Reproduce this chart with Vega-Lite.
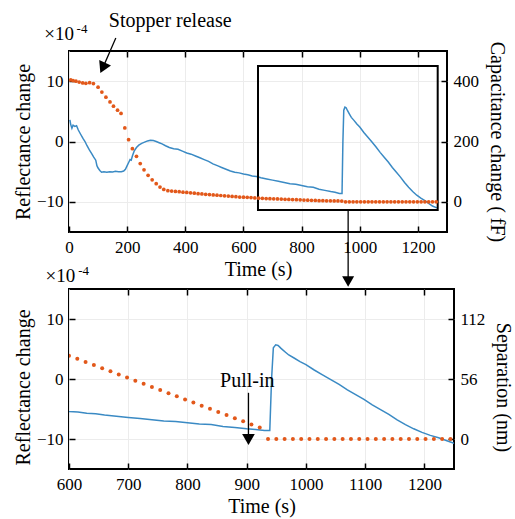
{
  "$schema": "https://vega.github.io/schema/vega-lite/v6.json",
  "background": "white",
  "padding": {"left": 12, "top": 9, "right": 5, "bottom": 5},
  "spacing": 57,
  "bounds": "flush",
  "datasets": {
    "refl": [
      {"t":3,"r":3.6},{"t":6,"r":2.8},{"t":10,"r":2.2},{"t":14,"r":2.7},{"t":20,"r":2.5},{"t":26,"r":2.6},{"t":32,"r":1.9},{"t":40,"r":1.2},{"t":48,"r":0.5},{"t":55,"r":0.0},{"t":62,"r":-0.7},{"t":70,"r":-1.4},{"t":78,"r":-2.0},{"t":85,"r":-2.6},{"t":92,"r":-3.1},{"t":96,"r":-4.0},{"t":100,"r":-4.4},{"t":106,"r":-4.8},{"t":112,"r":-5.1},{"t":120,"r":-5.0},{"t":130,"r":-5.1},{"t":140,"r":-5.0},{"t":150,"r":-5.05},{"t":160,"r":-4.95},{"t":170,"r":-5.0},{"t":180,"r":-5.0},{"t":188,"r":-4.9},{"t":194,"r":-4.6},{"t":200,"r":-4.0},{"t":206,"r":-3.4},{"t":210,"r":-3.0},{"t":214,"r":-3.1},{"t":218,"r":-2.4},{"t":224,"r":-1.6},{"t":232,"r":-1.0},{"t":240,"r":-0.6},{"t":250,"r":-0.3},{"t":260,"r":-0.1},{"t":270,"r":0.1},{"t":280,"r":0.2},{"t":290,"r":0.15},{"t":300,"r":0.0},{"t":310,"r":-0.2},{"t":320,"r":-0.4},{"t":332,"r":-0.7},{"t":345,"r":-1.0},{"t":360,"r":-1.2},{"t":375,"r":-1.3},{"t":390,"r":-1.6},{"t":405,"r":-1.9},{"t":420,"r":-2.1},{"t":435,"r":-2.4},{"t":450,"r":-2.7},{"t":465,"r":-3.0},{"t":480,"r":-3.3},{"t":495,"r":-3.7},{"t":510,"r":-4.0},{"t":525,"r":-4.3},{"t":540,"r":-4.6},{"t":555,"r":-4.9},{"t":570,"r":-5.1},{"t":585,"r":-5.2},{"t":600,"r":-5.4},{"t":615,"r":-5.5},{"t":630,"r":-5.7},{"t":645,"r":-5.8},{"t":660,"r":-6.0},{"t":680,"r":-6.2},{"t":700,"r":-6.4},{"t":720,"r":-6.6},{"t":740,"r":-6.8},{"t":760,"r":-7.0},{"t":780,"r":-7.1},{"t":800,"r":-7.3},{"t":820,"r":-7.5},{"t":840,"r":-7.6},{"t":860,"r":-7.9},{"t":880,"r":-8.1},{"t":900,"r":-8.3},{"t":915,"r":-8.4},{"t":930,"r":-8.6},{"t":939,"r":-8.6},{"t":942,"r":0.0},{"t":945,"r":5.2},{"t":949,"r":5.7},{"t":953,"r":5.6},{"t":958,"r":5.1},{"t":965,"r":4.5},{"t":971,"r":4.0},{"t":980,"r":3.5},{"t":990,"r":2.9},{"t":1000,"r":2.4},{"t":1014,"r":1.5},{"t":1028,"r":0.7},{"t":1042,"r":-0.1},{"t":1056,"r":-0.9},{"t":1070,"r":-1.8},{"t":1084,"r":-2.6},{"t":1098,"r":-3.4},{"t":1112,"r":-4.3},{"t":1126,"r":-5.1},{"t":1140,"r":-5.9},{"t":1154,"r":-6.8},{"t":1168,"r":-7.6},{"t":1182,"r":-8.3},{"t":1196,"r":-8.9},{"t":1210,"r":-9.4},{"t":1224,"r":-9.8},{"t":1238,"r":-10.3},{"t":1250,"r":-10.7},{"t":1265,"r":-11.0}
    ],
    "cap": [
      {"t":6,"c":404},{"t":14,"c":402},{"t":24,"c":400},{"t":35,"c":397},{"t":47,"c":394},{"t":58,"c":393},{"t":71,"c":395},{"t":84,"c":392},{"t":100,"c":380},{"t":113,"c":364},{"t":127,"c":347},{"t":141,"c":331},{"t":153,"c":317},{"t":167,"c":304},{"t":179,"c":293},{"t":192,"c":245},{"t":205,"c":206},{"t":218,"c":176},{"t":232,"c":151},{"t":245,"c":127},{"t":258,"c":106},{"t":272,"c":88},{"t":286,"c":73},{"t":300,"c":60},{"t":313,"c":49},{"t":326,"c":41},{"t":340,"c":37},{"t":353,"c":35.5},{"t":366,"c":34.5},{"t":379,"c":33.5},{"t":392,"c":32},{"t":405,"c":31},{"t":418,"c":30},{"t":431,"c":28.5},{"t":444,"c":27},{"t":457,"c":26},{"t":470,"c":25},{"t":483,"c":24},{"t":496,"c":23},{"t":509,"c":22},{"t":522,"c":21},{"t":535,"c":20},{"t":548,"c":19},{"t":561,"c":18},{"t":574,"c":17},{"t":587,"c":16},{"t":600,"c":15.5},{"t":613,"c":15},{"t":626,"c":14},{"t":639,"c":13},{"t":652,"c":12},{"t":665,"c":11.5},{"t":678,"c":11},{"t":691,"c":10.5},{"t":704,"c":10},{"t":717,"c":9.5},{"t":730,"c":9},{"t":743,"c":8.5},{"t":756,"c":8},{"t":769,"c":7.5},{"t":782,"c":7},{"t":795,"c":6.5},{"t":808,"c":6},{"t":821,"c":5.5},{"t":834,"c":5},{"t":847,"c":4.5},{"t":860,"c":4},{"t":873,"c":3.8},{"t":886,"c":3.5},{"t":899,"c":3.2},{"t":912,"c":3},{"t":925,"c":2.8},{"t":938,"c":2.5},{"t":951,"c":0},{"t":964,"c":0},{"t":977,"c":0},{"t":990,"c":0},{"t":1003,"c":0},{"t":1016,"c":0},{"t":1029,"c":0},{"t":1042,"c":0},{"t":1055,"c":0},{"t":1068,"c":0},{"t":1081,"c":0},{"t":1094,"c":0},{"t":1107,"c":0},{"t":1120,"c":0},{"t":1133,"c":0},{"t":1146,"c":0},{"t":1159,"c":0},{"t":1172,"c":0},{"t":1185,"c":0},{"t":1198,"c":0},{"t":1211,"c":0},{"t":1224,"c":0},{"t":1237,"c":0},{"t":1250,"c":0},{"t":1263,"c":0}
    ],
    "sep": [
      {"t":600,"s":77.7},{"t":614,"s":74.8},{"t":628,"s":71.9},{"t":642,"s":69.0},{"t":656,"s":66.1},{"t":670,"s":63.2},{"t":684,"s":60.2},{"t":698,"s":57.3},{"t":712,"s":54.4},{"t":726,"s":51.5},{"t":740,"s":48.6},{"t":754,"s":45.7},{"t":768,"s":42.8},{"t":782,"s":39.8},{"t":796,"s":36.9},{"t":810,"s":34.0},{"t":824,"s":31.1},{"t":838,"s":28.2},{"t":852,"s":25.3},{"t":866,"s":22.4},{"t":880,"s":19.4},{"t":894,"s":16.5},{"t":908,"s":13.6},{"t":922,"s":10.7},{"t":936,"s":0},{"t":950,"s":0},{"t":964,"s":0},{"t":978,"s":0},{"t":992,"s":0},{"t":1006,"s":0},{"t":1020,"s":0},{"t":1034,"s":0},{"t":1048,"s":0},{"t":1062,"s":0},{"t":1076,"s":0},{"t":1090,"s":0},{"t":1104,"s":0},{"t":1118,"s":0},{"t":1132,"s":0},{"t":1146,"s":0},{"t":1160,"s":0},{"t":1174,"s":0},{"t":1188,"s":0},{"t":1202,"s":0},{"t":1216,"s":0},{"t":1230,"s":0},{"t":1244,"s":0}
    ]
  },
  "vconcat": [
    {
      "width": 378,
      "height": 181,
      "layer": [
        {
          "data": {"name": "refl"},
          "mark": {"type": "line", "color": "#3a8ac4", "strokeWidth": 1.5},
          "encoding": {
            "x": {"field": "t", "type": "quantitative", "scale": {"domain": [0, 1300], "nice": false, "zero": false}, "axis": {"orient": "bottom", "values": [0, 200, 400, 600, 800, 1000, 1200], "format": "d", "title": "Time (s)", "grid": true, "labelPadding": 13, "titlePadding": 4, "labelFlush": false}},
            "y": {"field": "r", "type": "quantitative", "scale": {"domain": [-15, 15], "nice": false, "zero": false}, "axis": {"orient": "left", "values": [-10, 0, 10], "format": "d", "title": "Reflectance change", "grid": true, "titlePadding": 3}}
          }
        },
        {
          "data": {"values": [{"x1": 650, "x2": 1268, "y1": -11.35, "y2": 12.5}]},
          "mark": {"type": "rect", "filled": false, "color": "black", "strokeWidth": 2},
          "encoding": {
            "x": {"field": "x1", "type": "quantitative", "scale": {"domain": [0, 1300], "nice": false, "zero": false}, "axis": null},
            "x2": {"field": "x2"},
            "y": {"field": "y1", "type": "quantitative", "scale": {"domain": [-15, 15], "nice": false, "zero": false}, "axis": null},
            "y2": {"field": "y2"}
          }
        },
        {
          "data": {"values": [{"t": 960, "t2": 960, "y": -11.35, "y2": -23}, {"t": 161, "t2": 116, "y": 17.17, "y2": 12.2}]},
          "mark": {"type": "rule", "color": "black", "strokeWidth": 1.3},
          "encoding": {
            "x": {"field": "t", "type": "quantitative", "scale": {"domain": [0, 1300], "nice": false, "zero": false}, "axis": null},
            "x2": {"field": "t2"},
            "y": {"field": "y", "type": "quantitative", "scale": {"domain": [-15, 15], "nice": false, "zero": false}, "axis": null},
            "y2": {"field": "y2"}
          }
        },
        {
          "data": {"values": [{"t": 960, "y": -23.2}]},
          "mark": {"type": "point", "shape": "triangle-down", "filled": true, "color": "black", "opacity": 1, "size": 144},
          "encoding": {
            "x": {"field": "t", "type": "quantitative", "scale": {"domain": [0, 1300], "nice": false, "zero": false}, "axis": null},
            "y": {"field": "y", "type": "quantitative", "scale": {"domain": [-15, 15], "nice": false, "zero": false}, "axis": null}
          }
        },
        {
          "data": {"values": [{"t": 116, "y": 12.2}]},
          "mark": {"type": "point", "shape": "triangle-down", "filled": true, "color": "black", "opacity": 1, "size": 170, "angle": 25},
          "encoding": {
            "x": {"field": "t", "type": "quantitative", "scale": {"domain": [0, 1300], "nice": false, "zero": false}, "axis": null},
            "y": {"field": "y", "type": "quantitative", "scale": {"domain": [-15, 15], "nice": false, "zero": false}, "axis": null}
          }
        },
        {
          "data": {"values": [{"t": 348, "y": 20.0, "label": "Stopper release"}]},
          "mark": {"type": "text", "fontSize": 20, "color": "black", "baseline": "middle", "align": "center"},
          "encoding": {
            "x": {"field": "t", "type": "quantitative", "scale": {"domain": [0, 1300], "nice": false, "zero": false}, "axis": null},
            "y": {"field": "y", "type": "quantitative", "scale": {"domain": [-15, 15], "nice": false, "zero": false}, "axis": null},
            "text": {"field": "label"}
          }
        },
        {
          "data": {"values": [{"t": -85, "y": 17.9, "label": "×10"}]},
          "mark": {"type": "text", "fontSize": 19, "color": "black", "baseline": "middle", "align": "left"},
          "encoding": {
            "x": {"field": "t", "type": "quantitative", "scale": {"domain": [0, 1300], "nice": false, "zero": false}, "axis": null},
            "y": {"field": "y", "type": "quantitative", "scale": {"domain": [-15, 15], "nice": false, "zero": false}, "axis": null},
            "text": {"field": "label"}
          }
        },
        {
          "data": {"values": [{"t": 26, "y": 18.7, "label": "-4"}]},
          "mark": {"type": "text", "fontSize": 13, "color": "black", "baseline": "middle", "align": "left"},
          "encoding": {
            "x": {"field": "t", "type": "quantitative", "scale": {"domain": [0, 1300], "nice": false, "zero": false}, "axis": null},
            "y": {"field": "y", "type": "quantitative", "scale": {"domain": [-15, 15], "nice": false, "zero": false}, "axis": null},
            "text": {"field": "label"}
          }
        },
        {
          "data": {"name": "cap"},
          "mark": {"type": "circle", "color": "#e2581a", "size": 14, "opacity": 1},
          "encoding": {
            "x": {"field": "t", "type": "quantitative", "scale": {"domain": [0, 1300], "nice": false, "zero": false}, "axis": {"orient": "top", "values": [200, 400, 600, 800, 1000, 1200], "labels": false, "title": null, "grid": false}},
            "y": {"field": "c", "type": "quantitative", "scale": {"domain": [-100, 500], "nice": false, "zero": false}, "axis": {"orient": "right", "values": [0, 200, 400], "format": "d", "title": "Capacitance change ( fF)", "titleAngle": 90, "grid": false, "titlePadding": 8}}
          }
        }
      ],
      "resolve": {"scale": {"y": "independent"}, "axis": {"x": "independent", "y": "independent"}}
    },
    {
      "width": 385,
      "height": 180,
      "layer": [
        {
          "data": {"name": "refl"},
          "transform": [{"filter": "datum.t >= 580"}],
          "mark": {"type": "line", "color": "#3a8ac4", "strokeWidth": 1.5, "clip": true},
          "encoding": {
            "x": {"field": "t", "type": "quantitative", "scale": {"domain": [600, 1250], "nice": false, "zero": false}, "axis": {"orient": "bottom", "values": [600, 700, 800, 900, 1000, 1100, 1200], "format": "d", "title": "Time (s)", "grid": true, "labelPadding": 13, "titlePadding": 4, "labelFlush": false}},
            "y": {"field": "r", "type": "quantitative", "scale": {"domain": [-15, 15], "nice": false, "zero": false}, "axis": {"orient": "left", "values": [-10, 0, 10], "format": "d", "title": "Reflectance change", "grid": true, "titlePadding": 3, "titleY": 98}}
          }
        },
        {
          "data": {"values": [{"t": 903, "y": -2.3, "y2": -9.6}]},
          "mark": {"type": "rule", "color": "black", "strokeWidth": 1.3},
          "encoding": {
            "x": {"field": "t", "type": "quantitative", "scale": {"domain": [600, 1250], "nice": false, "zero": false}, "axis": null},
            "y": {"field": "y", "type": "quantitative", "scale": {"domain": [-15, 15], "nice": false, "zero": false}, "axis": null},
            "y2": {"field": "y2"}
          }
        },
        {
          "data": {"values": [{"t": 903, "y": -10.1}]},
          "mark": {"type": "point", "shape": "triangle-down", "filled": true, "color": "black", "opacity": 1, "size": 160},
          "encoding": {
            "x": {"field": "t", "type": "quantitative", "scale": {"domain": [600, 1250], "nice": false, "zero": false}, "axis": null},
            "y": {"field": "y", "type": "quantitative", "scale": {"domain": [-15, 15], "nice": false, "zero": false}, "axis": null}
          }
        },
        {
          "data": {"values": [{"t": 901, "y": -0.3, "label": "Pull-in"}]},
          "mark": {"type": "text", "fontSize": 20, "color": "black", "baseline": "middle", "align": "center"},
          "encoding": {
            "x": {"field": "t", "type": "quantitative", "scale": {"domain": [600, 1250], "nice": false, "zero": false}, "axis": null},
            "y": {"field": "y", "type": "quantitative", "scale": {"domain": [-15, 15], "nice": false, "zero": false}, "axis": null},
            "text": {"field": "label"}
          }
        },
        {
          "data": {"values": [{"t": 560.5, "y": 17.2, "label": "×10"}]},
          "mark": {"type": "text", "fontSize": 19, "color": "black", "baseline": "middle", "align": "left"},
          "encoding": {
            "x": {"field": "t", "type": "quantitative", "scale": {"domain": [600, 1250], "nice": false, "zero": false}, "axis": null},
            "y": {"field": "y", "type": "quantitative", "scale": {"domain": [-15, 15], "nice": false, "zero": false}, "axis": null},
            "text": {"field": "label"}
          }
        },
        {
          "data": {"values": [{"t": 615.5, "y": 18.05, "label": "-4"}]},
          "mark": {"type": "text", "fontSize": 13, "color": "black", "baseline": "middle", "align": "left"},
          "encoding": {
            "x": {"field": "t", "type": "quantitative", "scale": {"domain": [600, 1250], "nice": false, "zero": false}, "axis": null},
            "y": {"field": "y", "type": "quantitative", "scale": {"domain": [-15, 15], "nice": false, "zero": false}, "axis": null},
            "text": {"field": "label"}
          }
        },
        {
          "data": {"name": "sep"},
          "mark": {"type": "circle", "color": "#e2581a", "size": 16, "opacity": 1, "clip": true},
          "encoding": {
            "x": {"field": "t", "type": "quantitative", "scale": {"domain": [600, 1250], "nice": false, "zero": false}, "axis": {"orient": "top", "values": [700, 800, 900, 1000, 1100, 1200], "labels": false, "title": null, "grid": false}},
            "y": {"field": "s", "type": "quantitative", "scale": {"domain": [-28, 140], "nice": false, "zero": false}, "axis": {"orient": "right", "values": [0, 56, 112], "format": "d", "title": "Separation (nm)", "titleAngle": 90, "grid": false, "titlePadding": 8, "titleY": 98}}
          }
        }
      ],
      "resolve": {"scale": {"y": "independent"}, "axis": {"x": "independent", "y": "independent"}}
    }
  ],
  "config": {
    "font": "Liberation Serif",
    "view": {"stroke": "black", "strokeWidth": 2},
    "axis": {
      "labelFont": "Liberation Serif", "labelFontSize": 17, "labelColor": "black",
      "titleFont": "Liberation Serif", "titleFontSize": 20, "titleFontWeight": "normal", "titleColor": "black",
      "tickColor": "black", "tickSize": -6, "tickWidth": 1.5,
      "domain": false, "gridColor": "#ececec", "gridWidth": 1,
      "labelPadding": 12, "titlePadding": 6, "labelFlush": false
    }
  }
}
